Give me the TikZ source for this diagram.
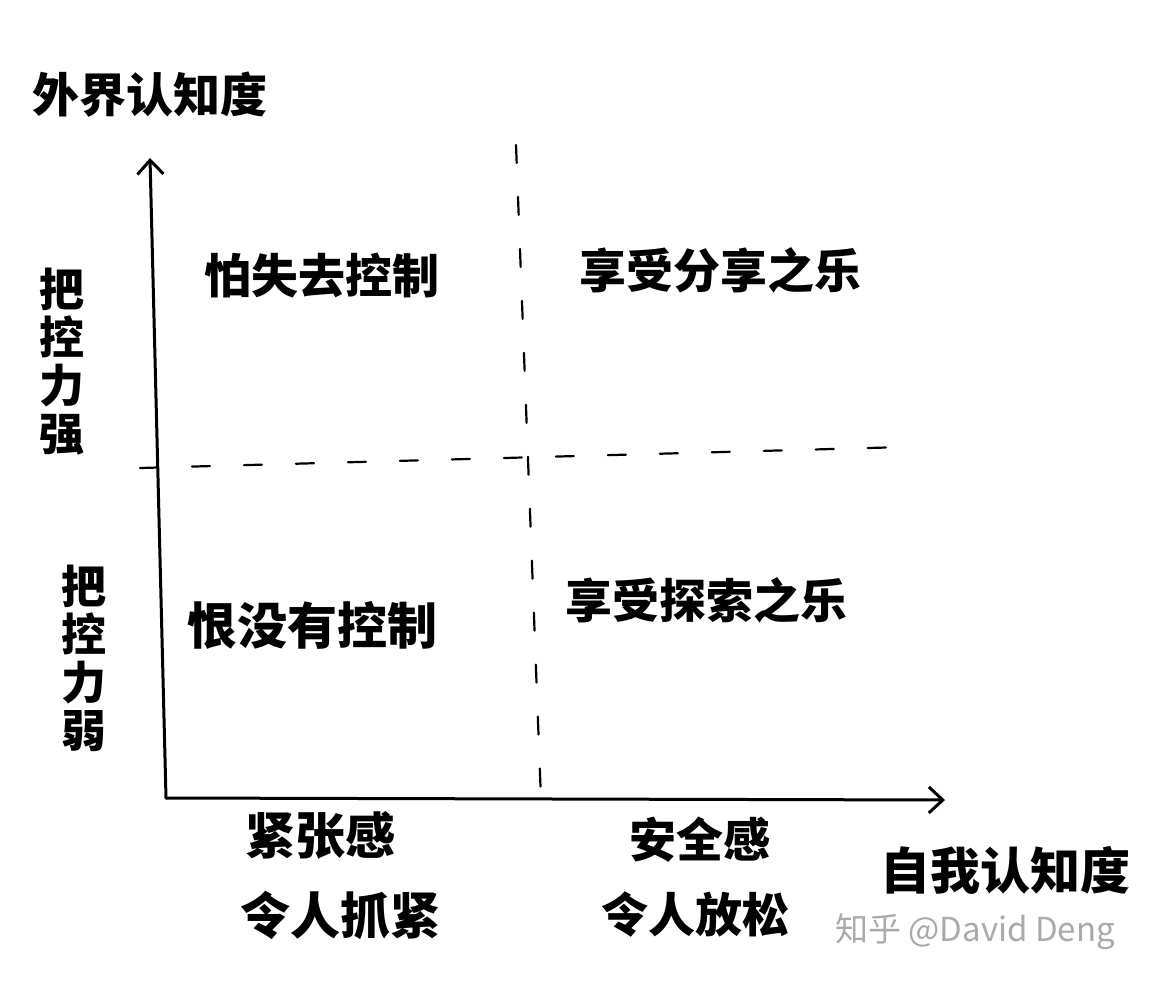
\documentclass[tikz,border=0pt]{standalone}
\usepackage{fontspec}
\setmainfont{Noto Sans CJK SC}
\usetikzlibrary{arrows.meta}
\definecolor{wm}{RGB}{170,170,170}
\tikzset{
  lbl/.style={font=\fontsize{47}{50}\selectfont\bfseries, inner sep=0pt, anchor=center},
  blbl/.style={font=\fontsize{50}{54}\selectfont\bfseries, inner sep=0pt, anchor=center},
  vlbl/.style={font=\fontsize{45}{48}\selectfont\bfseries, align=center, inner sep=0pt},
  axis/.style={line width=3pt, line cap=round, -{Straight Barb[length=14pt,width=26pt,line width=3pt]}},
  divider/.style={line width=2.2pt, line cap=round, dash pattern=on 18pt off 34pt},
}
\begin{document}
\begin{tikzpicture}[x=1pt,y=-1pt]
\fill[white] (0,0) rectangle (1150,984);
\useasboundingbox (0,0) rectangle (1150,984);
% axes
\coordinate (O) at (166,798);
\coordinate (Ytop) at (150,158);
\coordinate (Xend) at (945,800);
\draw[axis] (O) -- (Ytop);
\draw[axis] (O) -- (Xend);
% dividers
\coordinate (Vt) at (516,145);
\coordinate (Vb) at (541,800);
\coordinate (Hl) at (140,468);
\coordinate (Hr) at (905,447);
\draw[divider] (Vt) -- (Vb);
\draw[divider] (Hl) -- (Hr);
% axis titles
\node[lbl] (ytitle) at (150,95) {外界认知度};
\node[blbl] (xtitle) at (1005,870) {自我认知度};
% side labels
\node[vlbl] (strong) at (62,362) {把\\控\\力\\强};
\node[vlbl] (weak) at (84,658) {把\\控\\力\\弱};
% quadrants
\node[lbl] (q1) at (322,275) {怕失去控制};
\node[lbl] (q2) at (720,270) {享受分享之乐};
\node[blbl] (q3) at (312,625) {恨没有控制};
\node[lbl] (q4) at (706,600) {享受探索之乐};
% bottom labels
\node[blbl] (b1) at (320,835) {紧张感};
\node[blbl] (b2) at (340,915) {令人抓紧};
\node[lbl] (b3) at (700,840) {安全感};
\node[lbl] (b4) at (695,915) {令人放松};
% watermark
\node[font=\fontsize{33}{36}\selectfont, text=wm, inner sep=0pt] (wmk) at (975,932) {知乎 @David Deng};
\end{tikzpicture}
\end{document}
